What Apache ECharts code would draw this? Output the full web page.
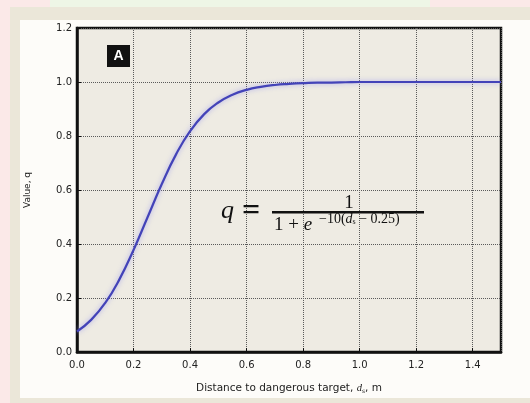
<!DOCTYPE html>
<html>
<head>
<meta charset="utf-8">
<script src="https://cdn.jsdelivr.net/npm/echarts@6/dist/echarts.min.js"></script>
<style>
html,body{margin:0;padding:0;background:#fdfcf9;}
#c{width:530px;height:403px;}
</style>
</head>
<body>
<div id="c"></div>
<script>
// distance d_s (m) and value q
var distances = [0, 0.05, 0.1, 0.15, 0.2, 0.25, 0.3, 0.35, 0.4, 0.45, 0.5, 0.55, 0.6, 0.65, 0.7, 0.75, 0.8, 0.85, 0.9, 0.95, 1.0, 1.1, 1.2, 1.3, 1.4, 1.5];
var values    = [0.076, 0.119, 0.182, 0.269, 0.378, 0.5, 0.622, 0.731, 0.818, 0.881, 0.924, 0.953, 0.971, 0.982, 0.989, 0.993, 0.996, 0.998, 0.998, 0.999, 1.0, 1.0, 1.0, 1.0, 1.0, 1.0];
var xTicks = [0.0, 0.2, 0.4, 0.6, 0.8, 1.0, 1.2, 1.4];
var yTicks = [0.0, 0.2, 0.4, 0.6, 0.8, 1.0, 1.2];

var points = distances.map(function (d, i) { return [d, values[i]]; });
var chart = echarts.init(document.getElementById('c'), null, {renderer: 'canvas'});
var sans = 'DejaVu Sans, Verdana, sans-serif';
var lab = {color: '#222', fontSize: 10, fontFamily: sans};
var serif = 'Liberation Serif, DejaVu Serif, serif';

chart.setOption({
  animation: false,
  backgroundColor: '#fdfcf9',
  graphic: [
    {type: 'rect', z: -100, shape: {x: 0, y: 0, width: 530, height: 403}, style: {fill: '#fbe9e8'}},
    {type: 'rect', z: -99, shape: {x: 50, y: 0, width: 380, height: 8}, style: {fill: '#eef6e6'}},
    {type: 'rect', z: -98, shape: {x: 10, y: 7, width: 520, height: 396}, style: {fill: '#ebe7d9'}},
    {type: 'rect', z: -97, shape: {x: 20, y: 20, width: 510, height: 378}, style: {fill: '#fdfcf9'}},
    {type: 'rect', z: 50, shape: {x: 107, y: 45, width: 23, height: 22}, style: {fill: '#111111'}},
    {type: 'text', z: 51, x: 118.5, y: 56, style: {text: 'A', fill: '#ffffff', font: 'bold 14px Liberation Sans, Arial, sans-serif', textAlign: 'center', textVerticalAlign: 'middle'}},
    {type: 'text', z: 51, x: 221, y: 211, style: {text: 'q', fill: '#111', font: 'italic 26px ' + serif, textAlign: 'left', textVerticalAlign: 'middle'}},
    {type: 'text', z: 51, x: 242, y: 212, style: {text: '=', fill: '#111', font: 'bold 32px ' + serif, textAlign: 'left', textVerticalAlign: 'middle'}},
    {type: 'rect', z: 51, shape: {x: 272, y: 211, width: 152, height: 2.5}, style: {fill: '#111'}},
    {type: 'text', z: 51, x: 349, y: 203, style: {text: '1', fill: '#111', font: '19px ' + serif, textAlign: 'center', textVerticalAlign: 'middle'}},
    {type: 'text', z: 51, x: 274, y: 225, style: {text: '1 + {e|e}', fill: '#111', font: '19px ' + serif, textAlign: 'left', textVerticalAlign: 'middle',
      rich: {e: {fontStyle: 'italic', fontSize: 19, fontFamily: serif, fill: '#111'}}}},
    {type: 'text', z: 51, x: 319, y: 219, style: {
      text: '\u221210({a|d}{b|s} \u2212 0.25)', fill: '#111', font: '14px ' + serif, textAlign: 'left', textVerticalAlign: 'middle',
      rich: {a: {fontStyle: 'italic', fontSize: 14, fontFamily: serif, fill: '#111'}, b: {fontSize: 8, fontFamily: serif, padding: [6, 0, 0, 0]}}
    }}
  ],
  grid: {left: 77, right: 29, top: 28, bottom: 51, show: true, backgroundColor: '#eeebe3', borderColor: '#111', borderWidth: 2.5},
  xAxis: {
    type: 'value', min: 0, max: 1.5, interval: 0.2,
    name: 'Distance to dangerous target, {i|d}{s|s}, m', nameLocation: 'middle', nameGap: 31,
    nameTextStyle: {color: '#222', fontSize: 10.5, fontFamily: sans,
      rich: {i: {fontStyle: 'italic', fontSize: 10.5, fontFamily: serif, color: '#222'}, s: {fontSize: 6, padding: [5, 0, 0, 0], color: '#222'}}},
    axisLine: {onZero: false, lineStyle: {color: '#111', width: 2.5}},
    axisTick: {inside: true, length: 4, lineStyle: {color: '#111'}},
    axisLabel: Object.assign({margin: 8, showMaxLabel: false, formatter: function (v) {
      for (var i = 0; i < xTicks.length; i++) if (Math.abs(xTicks[i] - v) < 1e-6) return xTicks[i].toFixed(1);
      return '';
    }}, lab),
    splitLine: {show: true, lineStyle: {color: '#5a5a5a', type: 'dotted', width: 1}}
  },
  yAxis: {
    type: 'value', min: 0, max: 1.2, interval: 0.2,
    name: 'Value, q', nameLocation: 'middle', nameGap: 45, nameRotate: 90,
    nameTextStyle: {color: '#222', fontSize: 9, fontFamily: sans},
    axisLine: {onZero: false, lineStyle: {color: '#111', width: 2.5}},
    axisTick: {inside: true, length: 4, lineStyle: {color: '#111'}},
    axisLabel: Object.assign({margin: 5, formatter: function (v) {
      for (var i = 0; i < yTicks.length; i++) if (Math.abs(yTicks[i] - v) < 1e-6) return yTicks[i].toFixed(1);
      return '';
    }}, lab),
    splitLine: {show: true, lineStyle: {color: '#5a5a5a', type: 'dotted', width: 1}}
  },
  series: [{
    type: 'line', data: points, smooth: 0.5, showSymbol: false, symbol: 'none',
    lineStyle: {color: '#4343b8', width: 2.2, shadowColor: 'rgba(140,140,240,0.7)', shadowBlur: 5}
  }]
});
</script>
</body>
</html>
